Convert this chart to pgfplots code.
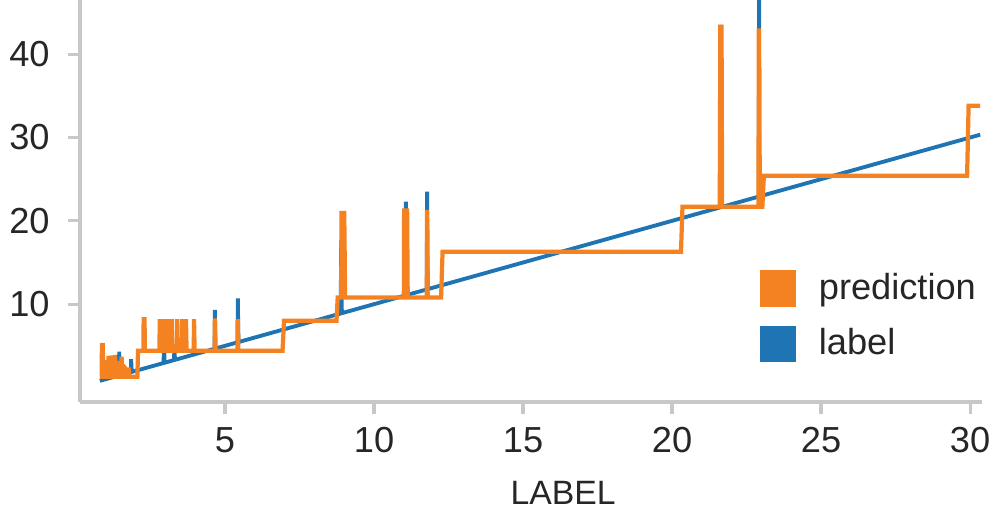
\documentclass[border=0pt]{standalone}
\usepackage{fontspec}
\setmainfont{Liberation Sans}
\usepackage{pgfplots}
\pgfplotsset{compat=1.18}
\definecolor{predorange}{RGB}{245,130,32}
\definecolor{labelblue}{RGB}{31,117,180}
\definecolor{axgray}{RGB}{200,200,200}
\begin{document}
\begin{tikzpicture}
\useasboundingbox (0,0) rectangle (9.96,5.11);
\clip (0,0) rectangle (9.96,5.11);
\begin{axis}[
  at={(0.80cm,1.09cm)}, anchor=south west,
  scale only axis, width=9.02cm, height=4.02cm,
  xmin=0.134, xmax=30.4, ymin=-1.74, ymax=46.5,
  axis x line*=bottom, axis y line*=left,
  axis line style={axgray, line width=0.9pt},
  tick align=outside, major tick length=0.12cm,
  tick style={axgray, line width=0.9pt},
  xtick={5,10,15,20,25,30}, ytick={10,20,30,40},
  /pgf/number format/assume math mode=true,
  tick label style={font=\fontsize{10.3}{12}\selectfont, text=black!85},
  xticklabel style={yshift=-0.01cm},
  yticklabel style={xshift=-0.06cm},
  xlabel={LABEL},
  xlabel style={at={(axis description cs:0.5355,-0.226)}, anchor=center, font=\fontsize{9.6}{12}\selectfont, text=black!85},
  legend style={draw=none, fill=none, at={(axis description cs:0.741,0.358)}, anchor=north west,
    font=\fontsize{10.3}{12}\selectfont, text=black!85, row sep=0.1cm, column sep=0.16cm},
  legend cell align=left,
  reverse legend,
  legend image code/.code={\fill[#1] (0cm,-0.16cm) rectangle (0.32cm,0.16cm);},
  clip=true,
]
\addplot[labelblue, line width=1.1pt] coordinates {
(0.8,0.8)
(1.44,1.44)(1.45,4.3)(1.47,1.47)
(1.84,1.84)(1.85,3.4)(1.87,1.87)
(2.94,2.94)(2.95,6.5)(2.97,2.97)
(3.29,3.29)(3.3,5.0)(3.32,3.32)
(4.65,4.65)(4.66,9.3)(4.68,4.68)
(5.42,5.42)(5.43,10.7)(5.45,5.45)
(8.88,8.88)(8.9,17.7)(8.92,8.92)
(11.05,11.05)(11.07,22.3)(11.09,11.09)
(11.77,11.77)(11.78,23.5)(11.8,11.8)
(21.63,21.63)(21.64,43.5)(21.66,21.66)
(22.91,22.91)(22.92,48)(22.94,22.94)
(30.34,30.34)
};
\addlegendentry{label}
\addplot[predorange, line width=1.2pt] coordinates {
(0.8,1.3)
(0.86,1.3)(0.87,5.1)(0.9,5.1)(0.91,1.3)
(0.96,1.3)(0.97,2.8)(0.99,1.3)(1.02,1.3)(1.03,3.3)(1.05,1.3)
(1.08,1.3)(1.09,3.8)(1.11,1.3)(1.14,1.3)(1.15,3.0)(1.17,1.3)
(1.18,1.3)(1.19,3.6)(1.23,3.6)(1.24,1.3)(1.26,1.3)(1.27,3.4)(1.29,1.3)
(1.3,1.3)(1.31,3.9)(1.33,1.3)(1.36,1.3)(1.37,2.9)(1.39,1.3)
(1.4,1.3)(1.41,3.2)(1.43,1.3)(1.46,1.3)(1.47,2.7)(1.49,1.3)
(1.52,1.3)(1.53,3.7)(1.55,1.3)(1.57,1.3)(1.58,2.8)(1.6,1.3)
(1.62,1.3)(1.63,2.6)(1.65,1.3)(1.69,1.3)(1.7,2.2)(1.72,1.3)
(1.76,1.3)(1.77,2.4)(1.79,1.3)
(2.06,1.3)(2.08,4.4)
(2.26,4.4)(2.27,8.2)(2.3,8.2)(2.31,4.4)
(2.8,4.4)(2.81,8.2)(2.83,4.4)
(2.9,4.4)(2.91,8.2)(2.93,4.4)
(3.0,4.4)(3.01,8.2)(3.03,4.4)
(3.1,4.4)(3.11,8.2)(3.13,4.4)
(3.2,4.4)(3.21,8.2)(3.23,4.4)
(3.38,4.4)(3.39,8.2)(3.41,4.4)
(3.55,4.4)(3.56,8.2)(3.58,4.4)
(3.68,4.4)(3.69,8.2)(3.71,4.4)
(3.95,4.4)(3.96,8.2)(3.98,4.4)
(4.65,4.4)(4.66,8.3)(4.68,4.4)
(5.42,4.4)(5.43,8.2)(5.45,4.4)
(6.93,4.4)(6.98,8.0)
(8.74,8.0)(8.78,10.8)
(8.9,10.8)(8.91,21.2)(8.94,10.8)(8.96,21.2)(8.99,10.8)(9.0,21.2)(9.03,10.8)
(11.0,10.8)(11.01,21.5)(11.04,10.8)(11.06,21.5)(11.09,10.8)(11.11,21.5)(11.13,10.8)
(11.77,10.8)(11.78,21.3)(11.8,10.8)
(12.25,10.8)(12.3,16.3)
(20.3,16.3)(20.35,21.7)
(21.6,21.7)(21.62,43.3)(21.66,43.3)(21.68,21.7)
(22.9,21.7)(22.91,43.1)(22.93,21.7)
(23.03,21.7)(23.08,25.4)
(29.9,25.4)(29.95,33.8)
(30.34,33.8)
};
\addlegendentry{prediction}
\end{axis}
\end{tikzpicture}
\end{document}
